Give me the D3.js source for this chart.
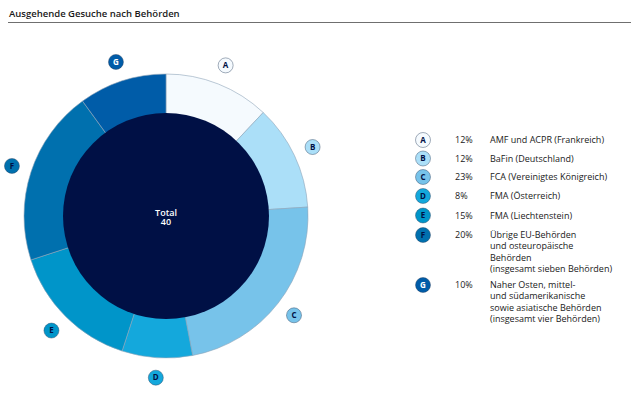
<!DOCTYPE html>
<html>
<head>
<meta charset="utf-8">
<script src="https://cdn.jsdelivr.net/npm/d3@7"></script>
<style>
  body { margin: 0; background: #fff; }
  text { font-family: "Open Sans", sans-serif; }
</style>
</head>
<body>
<div id="chart"></div>
<script>
var keys = ['A', 'B', 'C', 'D', 'E', 'F', 'G']
var shares = [12, 12, 23, 8, 15, 20, 10]
var colors = ['#f5fafe', '#abdff8', '#77c3ea', '#14a8dc', '#0095c9', '#0070ae', '#005ca8']
var letterColors = ['#001045', '#001045', '#001045', '#001045', '#001045', '#001045', '#ffffff']
var labels = [
  ['AMF und ACPR (Frankreich)'],
  ['BaFin (Deutschland)'],
  ['FCA (Vereinigtes Königreich)'],
  ['FMA (Österreich)'],
  ['FMA (Liechtenstein)'],
  ['Übrige EU-Behörden', 'und osteuropäische', 'Behörden', '(insgesamt sieben Behörden)'],
  ['Naher Osten, mittel-', 'und südamerikanische', 'sowie asiatische Behörden', '(insgesamt vier Behörden)']
]
var total = 40

var data = keys.map((k, i) => ({ key: k, value: shares[i], color: colors[i], letter: letterColors[i], label: labels[i] }))

var svg = d3.select('#chart')
  .append('svg')
  .attr('width', 640)
  .attr('height', 397)

// title
svg.append('text')
  .attr('x', 9)
  .attr('y', 17)
  .attr('font-size', '9.5px')
  .attr('font-weight', 600)
  .attr('fill', '#1a1a1a')
  .text('Ausgehende Gesuche nach Behörden')

svg.append('line')
  .attr('x1', 8).attr('x2', 631)
  .attr('y1', 22.5).attr('y2', 22.5)
  .attr('stroke', '#6f6f6f')
  .attr('stroke-width', 1)

// donut
var cx = 166, cy = 216
var rOuter = 142, rInner = 103, rLabel = 162

var pie = d3.pie().value(d => d.value).sort(null)
var arc = d3.arc().innerRadius(rInner - 2).outerRadius(rOuter)
var arcs = pie(data)

var g = svg.append('g').attr('transform', `translate(${cx}, ${cy})`)

g.selectAll('path')
  .data(arcs)
  .enter()
  .append('path')
  .attr('d', arc)
  .attr('fill', d => d.data.color)
  .attr('stroke', '#8ea4b8')
  .attr('stroke-width', 0.6)

g.append('circle')
  .attr('r', rInner)
  .attr('fill', '#001045')

g.append('text')
  .attr('text-anchor', 'middle')
  .attr('y', 0)
  .attr('font-size', '9px')
  .attr('font-weight', 600)
  .attr('fill', '#fff')
  .text('Total')

g.append('text')
  .attr('text-anchor', 'middle')
  .attr('y', 9)
  .attr('font-size', '9px')
  .attr('font-weight', 600)
  .attr('fill', '#fff')
  .text(total)

function badge(sel) {
  sel.append('circle')
    .attr('r', 7.5)
    .attr('fill', d => d.color)
    .attr('stroke', '#2c4260')
    .attr('stroke-opacity', 0.55)
    .attr('stroke-width', 0.8)
  sel.append('text')
    .attr('text-anchor', 'middle')
    .attr('dy', '0.35em')
    .attr('font-size', '8px')
    .attr('font-weight', 700)
    .attr('fill', d => d.letter)
    .text(d => d.key)
}

// slice letters
var mid = d => (d.startAngle + d.endAngle) / 2
g.selectAll('g.tag')
  .data(arcs)
  .enter()
  .append('g')
  .attr('class', 'tag')
  .attr('transform', d => `translate(${Math.sin(mid(d)) * rLabel}, ${-Math.cos(mid(d)) * rLabel})`)
  .datum(d => d.data)
  .call(badge)

// legend
var legendY = [140, 158.5, 177, 196, 215.5, 235, 285]
var legend = svg.append('g')
  .selectAll('g')
  .data(data)
  .enter()
  .append('g')
  .attr('transform', (d, i) => `translate(423, ${legendY[i]})`)

legend.call(badge)

legend.append('text')
  .attr('x', 32)
  .attr('dy', '0.35em')
  .attr('font-size', '9px')
  .attr('fill', '#1a1a1a')
  .text(d => d.value + '%')

legend.append('text')
  .attr('x', 67)
  .attr('font-size', '9px')
  .attr('fill', '#1a1a1a')
  .selectAll('tspan')
  .data(d => d.label)
  .enter()
  .append('tspan')
  .attr('x', 67)
  .attr('y', (d, i) => i * 11.3)
  .attr('dy', '0.35em')
  .text(d => d)
</script>
</body>
</html>
